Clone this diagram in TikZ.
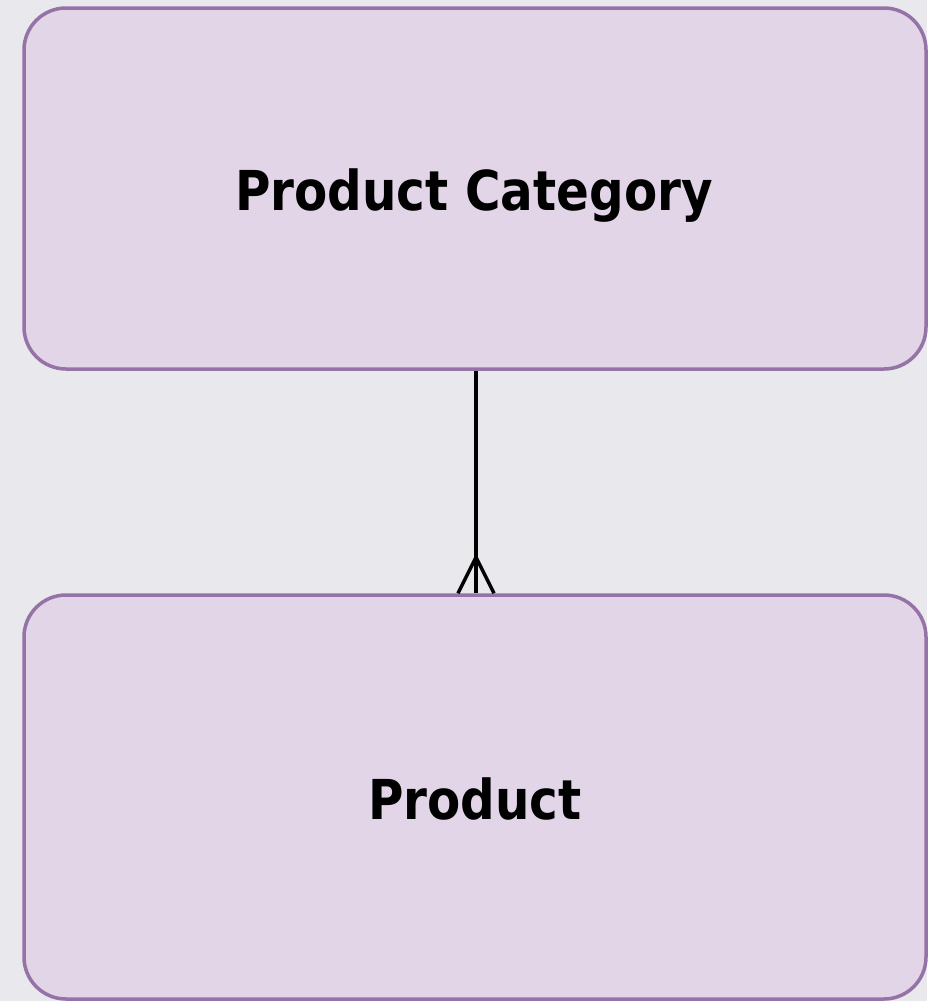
\documentclass[tikz,border=0pt]{standalone}
\usepackage{fontspec}
\usetikzlibrary{calc}
\setmainfont{DejaVu Sans}
\newfontfamily\lblfont[FakeStretch=0.88]{DejaVu Sans Bold}
\definecolor{bgc}{HTML}{E8E8ED}
\definecolor{boxfill}{HTML}{E1D5E7}
\definecolor{boxline}{HTML}{9673A6}
\tikzset{
  entity/.style={draw=boxline, fill=boxfill, line width=3.5pt, rounded corners=42pt,
    minimum width=902pt, inner sep=0pt, font=\lblfont\fontsize{55}{62}\selectfont},
  rel/.style={line width=3.5pt, draw=black}
}
\begin{document}
\begin{tikzpicture}[x=1pt,y=-1pt]
\useasboundingbox (0,0) rectangle (927,1001);
\fill[bgc] (0,0) rectangle (927,1001);
\node[entity, minimum height=361pt] (cat) at (475,188.5) {};
\node[font=\lblfont\fontsize{55}{62}\selectfont, anchor=base] (catlbl) at (474,210) {Product Category};
\node[entity, minimum height=404pt] (prod) at (475,797) {};
\node[font=\lblfont\fontsize{55}{62}\selectfont, anchor=base] (prodlbl) at (475,819) {Product};
\coordinate (top) at (476,0 |- cat.south);
\coordinate (foot) at (476,0 |- prod.north);
\draw[rel] (top) -- (foot);
\coordinate (fork) at ($(foot)+(0,-36)$);
\draw[rel] ($(foot)+(-18,0)$) -- (fork) -- ($(foot)+(18,0)$);
\end{tikzpicture}
\end{document}
